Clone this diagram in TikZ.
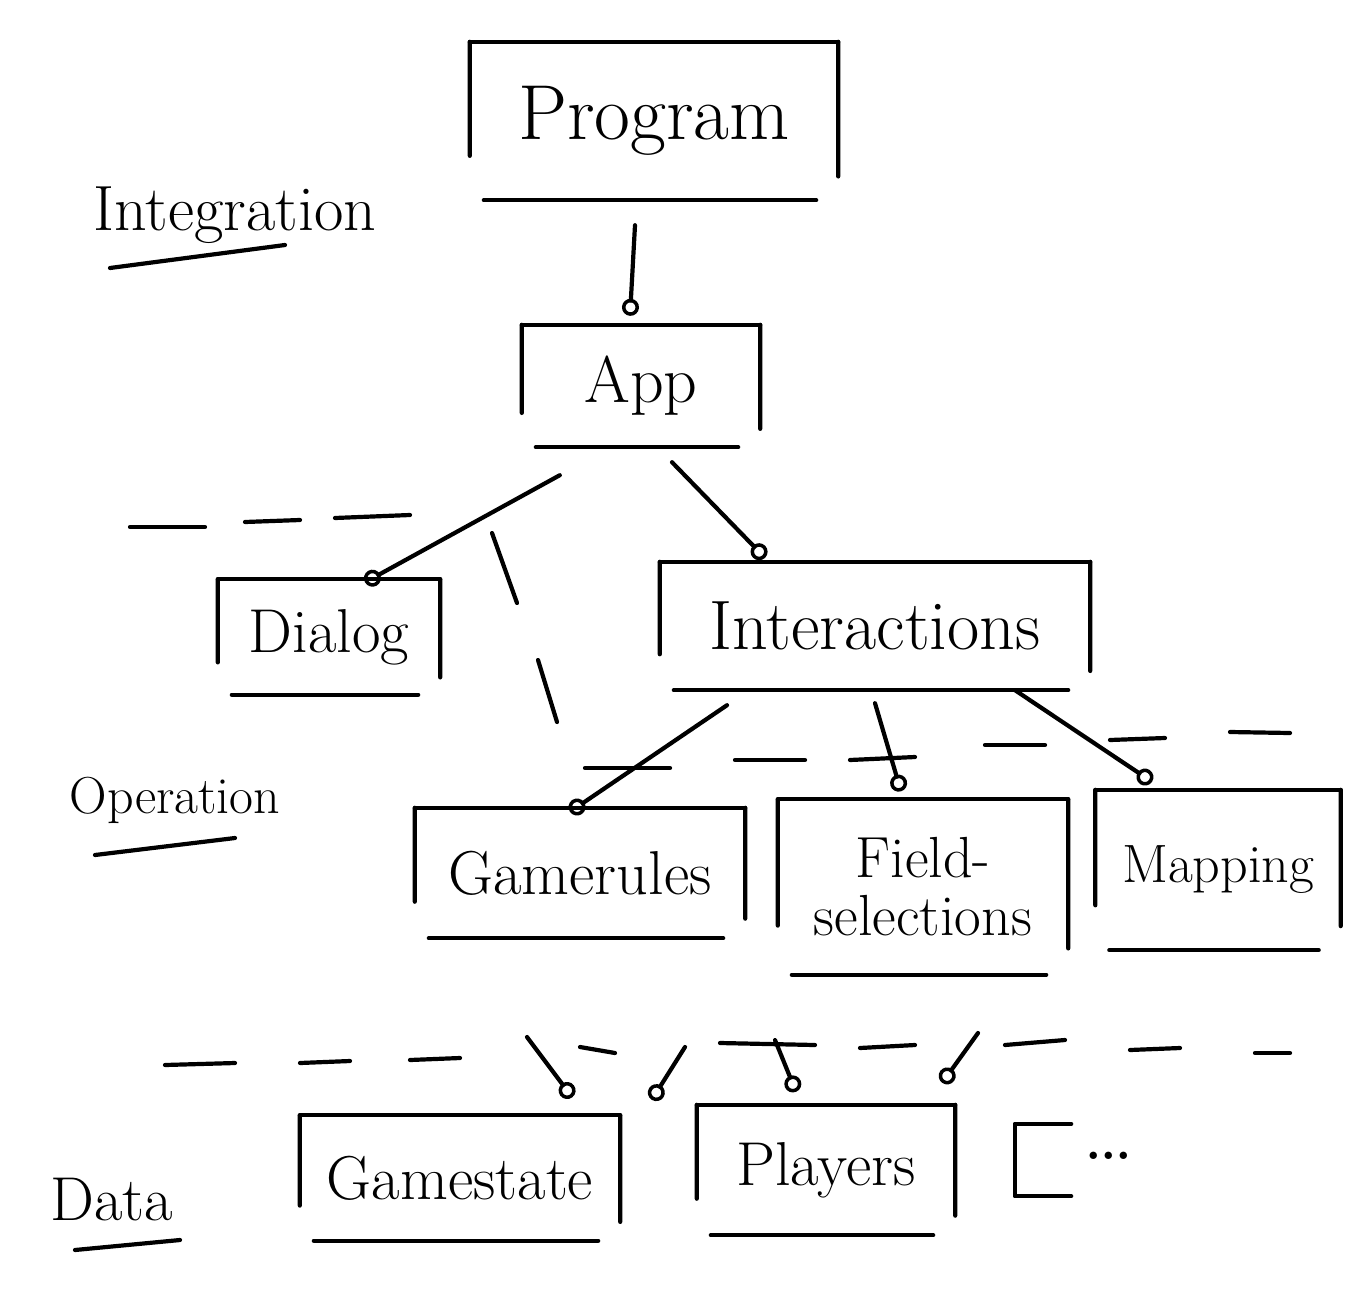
\documentclass[tikz,border=0pt]{standalone}
\usetikzlibrary{arrows.meta,calc}
\newcommand\hwsize[1]{\fontsize{#1}{#1}\selectfont}
\tikzset{
  pen/.style={line width=4.2pt, line cap=round, line join=round, black},
  boxnode/.style={inner sep=0pt, align=center},
  lbl/.style={inner sep=0pt},
  conn/.style={pen, -{Circle[open,length=17pt,width=17pt,line width=3.5pt]}},
}
% hand-drawn open box around a node
\newcommand\skbox[1]{%
  \draw[pen] (#1.north west) -- (#1.north east);
  \draw[pen] (#1.north west) -- ($(#1.north west)!0.72!(#1.south west)$);
  \draw[pen] (#1.north east) -- ($(#1.north east)!0.85!(#1.south east)$);
  \draw[pen] ([xshift=14pt]#1.south west) -- ([xshift=-22pt]#1.south east);
}
\begin{document}
\begin{tikzpicture}[x=1pt,y=-1pt]
\useasboundingbox (0,0) rectangle (1364,1306);

% layer labels
\node[lbl, font=\hwsize{64}] (lint) at (235,215) {Integration};
\node[lbl, font=\hwsize{52}] (lop)  at (175,800) {Operation};
\node[lbl, font=\hwsize{62}] (ldat) at (112,1200) {Data};
\draw[pen] (110,268) -- (285,245);
\draw[pen] (95,855) -- (235,838);
\draw[pen] (75,1250) -- (180,1240);

% boxes
\node[boxnode, font=\hwsize{78}, minimum width=368pt, minimum height=158pt] (prog) at (654,121) {Program};
\node[boxnode, font=\hwsize{66}, minimum width=238pt, minimum height=122pt] (app) at (641,386) {App};
\node[boxnode, font=\hwsize{62}, minimum width=222pt, minimum height=115pt] (dlg) at (329,637) {Dialog};
\node[boxnode, font=\hwsize{70}, minimum width=430pt, minimum height=128pt] (inter) at (875,626) {Interactions};
\node[boxnode, font=\hwsize{62}, minimum width=330pt, minimum height=130pt] (rules) at (580,873) {Gamerules};
\node[boxnode, font=\hwsize{58}, minimum width=290pt, minimum height=175pt] (field) at (923,887) {Field-\\selections};
\node[boxnode, font=\hwsize{54}, minimum width=245pt, minimum height=160pt] (map) at (1218,870) {Mapping};
\node[boxnode, font=\hwsize{62}, minimum width=320pt, minimum height=125pt] (state) at (460,1178) {Gamestate};
\node[boxnode, font=\hwsize{62}, minimum width=258pt, minimum height=130pt] (players) at (826,1170) {Players};
\node[boxnode, minimum width=56pt, minimum height=72pt] (more) at (1043,1160) {};
\node[lbl, anchor=west, font=\hwsize{90}] (moredots) at (1082,1156) {\dots};

\foreach \n in {prog,app,dlg,inter,rules,field,map,state,players}{\skbox{\n}}
\draw[pen] (more.north east) -- (more.north west) -- (more.south west) -- (more.south east);

% separators
\foreach \xa/\ya/\xb/\yb in {130/527/205/527, 245/522/300/520, 335/518/410/515,
  585/768/670/768, 735/760/805/760, 850/760/915/757, 985/745/1045/745,
  1110/740/1165/738, 1230/732/1290/733,
  492/533/517/603, 538/660/557/722,
  165/1065/235/1063, 300/1063/350/1061, 410/1060/460/1058, 580/1047/615/1053,
  720/1043/815/1045, 860/1048/915/1045, 1005/1045/1065/1040, 1130/1050/1180/1048,
  1255/1053/1290/1053}
  {\draw[pen] (\xa,\ya) -- (\xb,\yb);}

% connectors
\draw[conn] ([xshift=-19pt,yshift=-25pt]prog.south) -- ([xshift=-11pt,yshift=9pt]app.north);
\draw[conn] ([xshift=38pt,yshift=-28pt]app.south west) -- ([xshift=36pt,yshift=-3pt]dlg.north);
\draw[conn] ([xshift=31pt,yshift=-15pt]app.south) -- ([xshift=-110pt,yshift=4pt]inter.north);
\draw[conn] ([xshift=-148pt,yshift=-15pt]inter.south) -- ([xshift=-10pt,yshift=-4pt]rules.north);
\draw[conn] ([yshift=-13pt]inter.south) -- ([xshift=-22pt,yshift=8pt]field.north);
\draw[conn] ([xshift=140pt]inter.south) -- ([xshift=-66pt,yshift=8pt]map.north);

\coordinate (d1) at (527,1037);
\coordinate (d2) at (685,1047);
\coordinate (d3) at (775,1040);
\coordinate (d4) at (978,1033);
\draw[conn] (d1) -- ([xshift=-48pt,yshift=18pt]state.north east);
\draw[conn] (d2) -- ([xshift=-45pt,yshift=5pt]players.north west);
\draw[conn] (d3) -- ([xshift=-30pt,yshift=13pt]players.north);
\draw[conn] (d4) -- ([xshift=-13pt,yshift=22pt]players.north east);
\end{tikzpicture}
\end{document}
